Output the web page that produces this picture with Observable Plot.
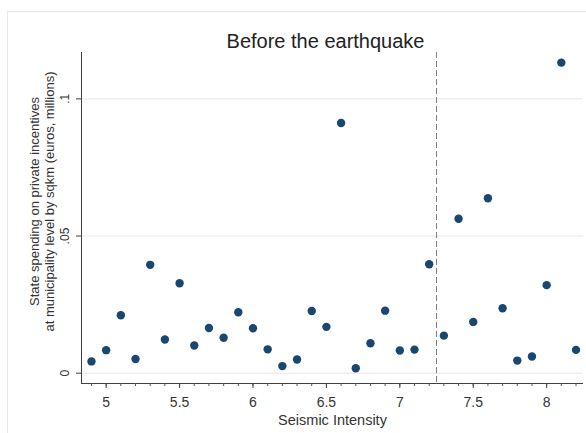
<!DOCTYPE html>
<html><head><meta charset="utf-8">
<script src="https://cdn.jsdelivr.net/npm/d3@7"></script>
<script src="https://cdn.jsdelivr.net/npm/@observablehq/plot@0.6"></script>
<style>
html,body{margin:0;padding:0;background:#fff;}
#wrap{position:relative;width:586px;height:433px;overflow:hidden;}
#frame{position:absolute;left:7px;top:11px;width:600px;height:450px;border-top:1px solid #e9e9e9;border-left:1px solid #e9e9e9;}
#chart{position:absolute;left:0;top:0;}
</style></head><body>
<div id="wrap"><div id="frame"></div><div id="chart"></div></div>
<script>
const intensity = [4.9,5.0,5.1,5.2,5.3,5.4,5.5,5.6,5.7,5.8,5.9,6.0,6.1,6.2,6.3,6.4,6.5,6.6,6.7,6.8,6.9,7.0,7.1,7.2,7.3,7.4,7.5,7.6,7.7,7.8,7.9,8.0,8.1,8.2];
const spending = [0.0043,0.0084,0.0211,0.0052,0.0395,0.0123,0.0328,0.0101,0.0165,0.0129,0.0222,0.0164,0.0087,0.0026,0.0050,0.0227,0.0169,0.0912,0.0018,0.0109,0.0228,0.0083,0.0086,0.0397,0.0137,0.0563,0.0187,0.0638,0.0237,0.0046,0.0061,0.0321,0.1132,0.0085];
const xTickValues = [5,5.5,6,6.5,7,7.5,8];
const xTickLabels = ["5","5.5","6","6.5","7","7.5","8"];
const yTickValues = [0,0.05,0.1];
const yTickLabels = ["0",".05",".1"];
const cutoff = [7.25];
const titleText = "Before the earthquake";
const xTitle = "Seismic Intensity";
const yTitleLines = ["State spending on private incentives","at municipality level by sqkm (euros, millions)"];

const xDomain = [4.832, 8.251];
const yDomain = [-0.00375, 0.1169];
const minorTicks = d3.range(49, 83).map(d => d / 10);
const data = intensity.map((x, i) => ({x, y: spending[i]}));
const font = "'Liberation Sans', Arial, sans-serif";

const chart = Plot.plot({
  width: 586, height: 433,
  marginLeft: 81, marginRight: 3, marginTop: 52, marginBottom: 50,
  style: {fontFamily: font, color: "#333", background: "transparent"},
  x: {domain: xDomain, label: null},
  y: {domain: yDomain, label: null},
  marks: [
    Plot.gridY(yTickValues, {stroke: "#e6e6e6", strokeOpacity: 1}),
    Plot.ruleX(cutoff, {stroke: "#7d7d7d", strokeWidth: 1, strokeDasharray: "6,3"}),
    Plot.dot(data, {x: "x", y: "y", r: 4.2, fill: "#1a476f", stroke: null}),
    Plot.ruleY([yDomain[0]], {stroke: "#404040", strokeWidth: 1}),
    Plot.ruleX([xDomain[0]], {stroke: "#404040", strokeWidth: 1}),
    Plot.axisX({ticks: minorTicks, tickSize: 3, tickFormat: () => "", stroke: "#555"}),
    Plot.axisX({ticks: xTickValues, tickSize: 5, tickPadding: 9, fontSize: 14, stroke: "#404040",
      tickFormat: d => xTickLabels[xTickValues.indexOf(d)]}),
    Plot.axisY({ticks: yTickValues, tickSize: 5, tickFormat: () => "", stroke: "#404040"}),
    Plot.text(yTickValues, {y: d => d, frameAnchor: "left", dx: -16, rotate: -90, textAnchor: "middle",
      text: (d, i) => yTickLabels[i], fontSize: 12, lineAnchor: "middle", fill: "#333"}),
    Plot.text([yTitleLines[0]], {frameAnchor: "left", dx: -47, dy: -16.5, rotate: -90, textAnchor: "middle",
      fontSize: 13, lineAnchor: "middle", fill: "#333"}),
    Plot.text([yTitleLines[1]], {frameAnchor: "left", dx: -32, dy: -16.5, rotate: -90, textAnchor: "middle",
      fontSize: 13, lineAnchor: "middle", fill: "#333"}),
    Plot.text([xTitle], {frameAnchor: "bottom", dy: 41, lineAnchor: "bottom", fontSize: 14.5, fill: "#333"}),
    Plot.text([titleText], {frameAnchor: "top", dx: -7, dy: -5, lineAnchor: "bottom", fontSize: 20, fill: "#222"})
  ]
});
document.getElementById("chart").appendChild(chart);
</script>
</body></html>
